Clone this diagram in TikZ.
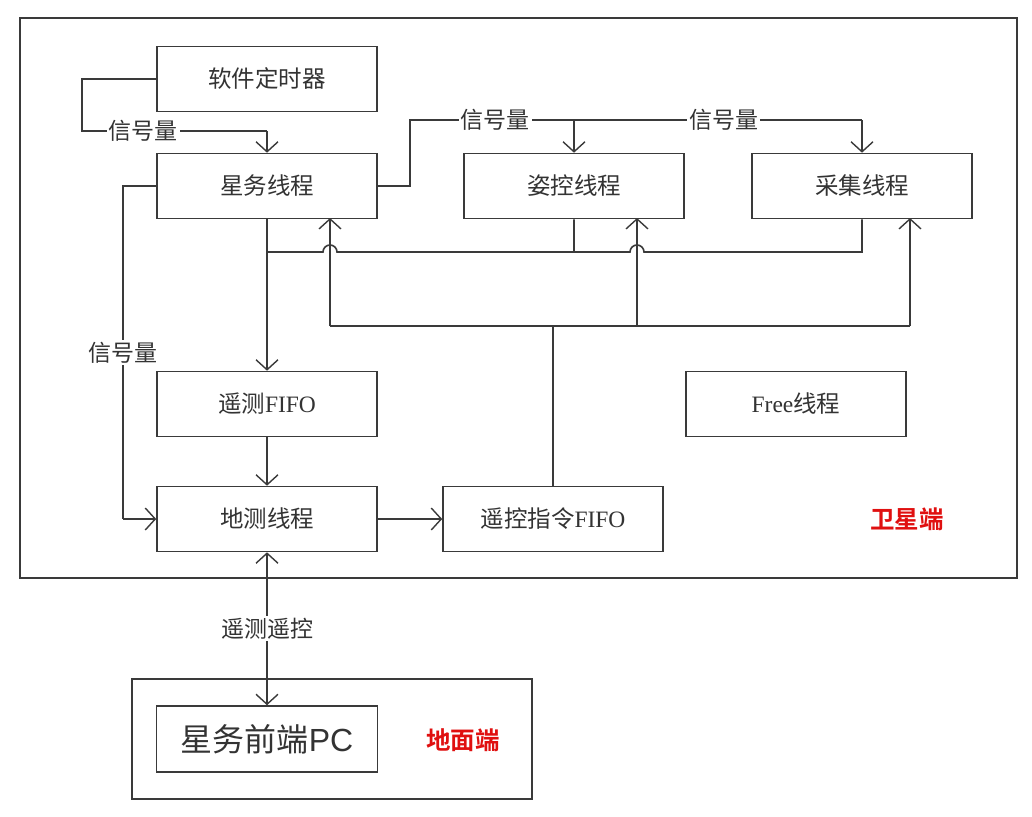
\documentclass[tikz,border=0pt]{standalone}
\usepackage{fontspec}
\setmainfont{Liberation Serif}
\newfontfamily\cjk{Noto Sans CJK SC}
\newfontfamily\cjkb{Noto Sans CJK SC}[BoldFont={Noto Sans CJK SC Bold}]
\newfontfamily\arialf{Liberation Sans}
\usetikzlibrary{arrows.meta}
\definecolor{ln}{HTML}{3A3A3A}
\definecolor{tx}{HTML}{333333}
\definecolor{rd}{HTML}{E01010}
\tikzset{
  box/.style={draw=ln,line width=1.6pt,minimum width=220pt,minimum height=65pt,inner sep=0pt,text=tx,font=\fontsize{23.5}{24}\selectfont},
  wire/.style={draw=ln,line width=1.6pt},
  arr/.style={wire,-{Straight Barb[length=10pt,width=22pt,line width=1.4pt]}},
  lab/.style={fill=white,inner sep=2pt,text=tx,font=\cjk\fontsize{23}{23}\selectfont},
  redlab/.style={text=rd,font=\cjk\bfseries\fontsize{24.5}{25}\selectfont}
}
\begin{document}
\begin{tikzpicture}[x=1pt,y=-1pt]
\useasboundingbox (0,0) rectangle (1032,816);
\fill[white] (0,0) rectangle (1032,816);
% outer frames
\draw[ln,line width=1.9pt] (20,18) rectangle (1017,578);
\draw[ln,line width=1.9pt] (132,679) rectangle (532,799);
% boxes
\node[box] (tm) at (267,79) {\cjk 软件定时器};
\node[box] (xw) at (267,186) {\cjk 星务线程};
\node[box] (zk) at (574,186) {\cjk 姿控线程};
\node[box] (cj) at (862,186) {\cjk 采集线程};
\node[box] (yc) at (267,404) {\cjk 遥测\normalfont FIFO};
\node[box] (fr) at (796,404) {\normalfont Free\cjk 线程};
\node[box] (dc) at (267,519) {\cjk 地测线程};
\node[box] (yk) at (553,519) {\cjk 遥控指令\normalfont FIFO};
\node[box,minimum width=221pt,minimum height=66pt,font=\fontsize{32}{32}\selectfont] (pc) at (267,739) {\cjk 星务前端\arialf PC};
\node[redlab] at (907,519) {\cjkb\textbf{卫星端}};
\node[redlab] at (463,740) {\cjkb\textbf{地面端}};
% coordinates
\coordinate (a1) at (82,79);
\coordinate (a2) at (82,131);
\coordinate (b1) at (410,186);
\coordinate (b2) at (410,120);
\coordinate (c1) at (123,186);
\coordinate (c2) at (123,519);
% timer -> xw
\draw[wire] (tm.west) -- (a1) -- (a2) -- node[lab,pos=0.33]{信号量} (a2 -| xw.north) ;
\draw[arr] (a2 -| xw.north) -- (xw.north);
% xw -> zk, cj
\draw[wire] (xw.east) -- (b1) -- (b2) -- node[lab,pos=0.52]{信号量} (b2 -| zk.north);
\draw[arr] (b2 -| zk.north) -- (zk.north);
\draw[wire] (b2 -| zk.north) -- node[lab,pos=0.52]{信号量} (b2 -| cj.north);
\draw[arr] (b2 -| cj.north) -- (cj.north);
% xw -> dc via left
\draw[wire] (xw.west) -- (c1) -- node[lab,pos=0.5]{信号量} (c2);
\draw[arr] (c2) -- (dc.west);
% telemetry bus
\coordinate (t0) at (267,252);
\draw[wire] (zk.south) -- (574,252) -- (337,252) arc[start angle=0,end angle=-180,radius=7] -- (t0);
\draw[wire] (cj.south) -- (862,252) -- (644,252) arc[start angle=0,end angle=-180,radius=7] -- (574,252);
\draw[wire] (xw.south) -- (t0);
\draw[arr,line width=2.5pt] (t0) -- (yc.north);
% command bus
\coordinate (k0) at (553,326);
\draw[wire] (yk.north) -- (k0);
\draw[wire] (330,326) -- (910,326);
\draw[arr] (330,326) -- (330,218);
\draw[arr] (637,326) -- (637,218);
\draw[arr] (910,326) -- (910,218);
% fifo -> dc, dc -> yk
\draw[arr] (yc.south) -- (dc.north);
\draw[arr] (dc.east) -- (yk.west);
% dc <-> pc
\draw[wire,{Straight Barb[length=10pt,width=22pt,line width=1.4pt]}-{Straight Barb[length=10pt,width=22pt,line width=1.4pt]}] (dc.south) -- node[lab,pos=0.5]{遥测遥控} (pc.north);
\end{tikzpicture}
\end{document}
